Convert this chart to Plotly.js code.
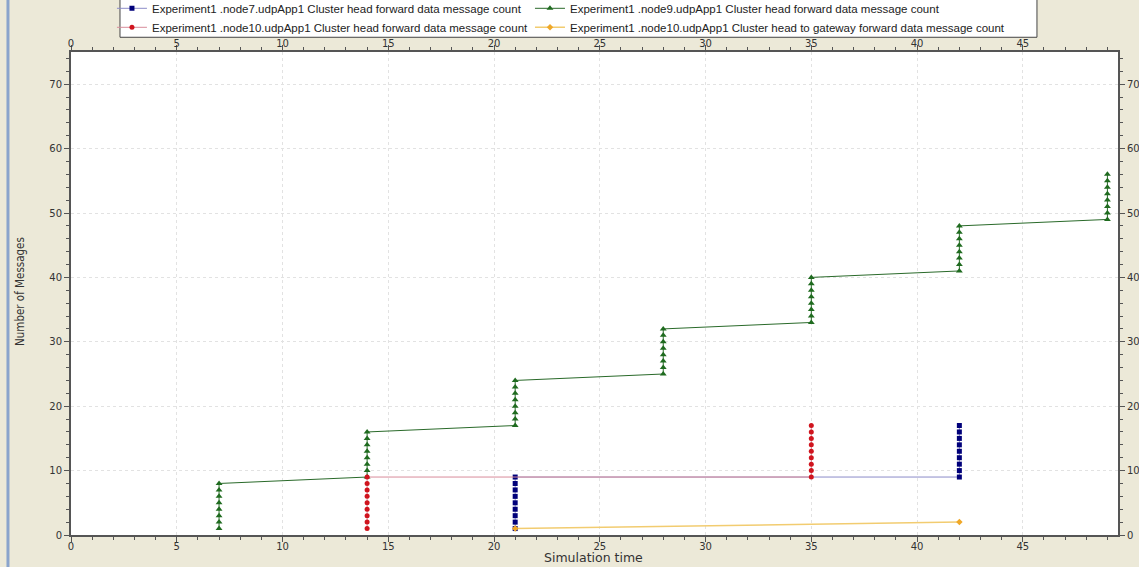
<!DOCTYPE html>
<html>
<head>
<meta charset="utf-8">
<script src="https://cdn.plot.ly/plotly-3.0.1.min.js"></script>
<style>html,body{margin:0;padding:0;background:#ECE9D8;}#chart{width:1139px;height:567px;}</style>
</head>
<body>
<div id="chart"></div>
<script>
// Series names
const seriesNames = [
  "Experiment1 .node7.udpApp1 Cluster head forward data message count",
  "Experiment1 .node9.udpApp1 Cluster head forward data message count",
  "Experiment1 .node10.udpApp1 Cluster head forward data message count",
  "Experiment1 .node10.udpApp1 Cluster head to gateway forward data message count"
];

// node7 (blue squares)
const node7Time  = [21,21,21,21,21,21,21,21,21, 42,42,42,42,42,42,42,42,42];
const node7Count = [1,2,3,4,5,6,7,8,9, 9,10,11,12,13,14,15,16,17];

// node9 (green triangles)
const node9Time = [
  7,7,7,7,7,7,7,7,
  14,14,14,14,14,14,14,14,
  21,21,21,21,21,21,21,21,
  28,28,28,28,28,28,28,28,
  35,35,35,35,35,35,35,35,
  42,42,42,42,42,42,42,42,
  49,49,49,49,49,49,49,49
];
const node9Count = [
  1,2,3,4,5,6,7,8,
  9,10,11,12,13,14,15,16,
  17,18,19,20,21,22,23,24,
  25,26,27,28,29,30,31,32,
  33,34,35,36,37,38,39,40,
  41,42,43,44,45,46,47,48,
  49,50,51,52,53,54,55,56
];

// node10 (red circles)
const node10Time  = [14,14,14,14,14,14,14,14,14, 35,35,35,35,35,35,35,35,35];
const node10Count = [1,2,3,4,5,6,7,8,9, 9,10,11,12,13,14,15,16,17];

// node10 to gateway (orange)
const gatewayTime  = [21, 42];
const gatewayCount = [1, 2];

// Axis ticks and titles
const xTicks = [0,5,10,15,20,25,30,35,40,45];
const yTicks = [0,10,20,30,40,50,60,70];
const xTitle = 'Simulation time';
const yTitle = 'Number of Messages';

const traces = [
  {x: node7Time, y: node7Count, name: seriesNames[0], legend: 'legend', type: 'scatter', mode: 'lines+markers',
   line: {color: '#8c8cc8', width: 1}, marker: {symbol: 'square', size: 5, color: '#00007a'}},
  {x: node9Time, y: node9Count, name: seriesNames[1], legend: 'legend2', type: 'scatter', mode: 'lines+markers',
   line: {color: '#2a6a2a', width: 1}, marker: {symbol: 'triangle-up', size: 6, color: '#1f6b1f'}},
  {x: node10Time, y: node10Count, name: seriesNames[2], legend: 'legend', type: 'scatter', mode: 'lines+markers',
   line: {color: '#d88c9a', width: 1}, marker: {symbol: 'circle', size: 5, color: '#d0141e'}},
  {x: gatewayTime, y: gatewayCount, name: seriesNames[3], legend: 'legend2', type: 'scatter', mode: 'lines+markers',
   line: {color: '#f2cc70', width: 1.5}, marker: {symbol: 'diamond', size: 5, color: '#f0a828'}},
  // invisible trace so the mirrored top/right axes are drawn
  {x: gatewayTime, y: gatewayCount, xaxis: 'x2', yaxis: 'y2', type: 'scatter', mode: 'markers',
   marker: {opacity: 0, size: 1}, showlegend: false, hoverinfo: 'skip'}
];

const tickFont = {family: 'DejaVu Sans, Verdana, sans-serif', size: 10, color: '#333'};
const axisCommon = {
  showline: true, linecolor: '#555', linewidth: 2,
  ticks: 'outside', ticklen: 5, tickcolor: '#555', tickwidth: 1,
  tickfont: tickFont, zeroline: false, fixedrange: true
};
const legendFont = {family: 'Liberation Sans, Arial, sans-serif', size: 11.5, color: '#222'};
const legendCommon = {
  orientation: 'v', xref: 'container', yref: 'paper', y: 1.1205, xanchor: 'left', yanchor: 'top',
  bgcolor: 'rgba(0,0,0,0)', borderwidth: 0, font: legendFont, itemwidth: 30,
  tracegroupgap: 0, itemclick: false, traceorder: 'normal'
};

const layout = {
  width: 1139, height: 567,
  paper_bgcolor: '#ECE9D8', plot_bgcolor: '#ffffff',
  margin: {l: 71, r: 21, t: 52, b: 32, pad: 0, autoexpand: false},
  showlegend: true,
  legend: Object.assign({}, legendCommon, {x: 0.0983}),
  legend2: Object.assign({}, legendCommon, {x: 0.4653}),
  xaxis: Object.assign({}, axisCommon, {
    range: [0, 49.5], tickvals: xTicks, ticktext: xTicks.map(String),
    minor: {dtick: 1, ticklen: 3, tickcolor: '#555', ticks: 'outside', showgrid: false},
    showgrid: true, gridcolor: '#e2e2e2', griddash: 'dot', gridwidth: 1, ticklabelstandoff: -4
  }),
  xaxis2: Object.assign({}, axisCommon, {
    range: [0, 49.5], tickvals: xTicks, ticktext: xTicks.map(String),
    minor: {dtick: 1, ticklen: 3, tickcolor: '#555', ticks: 'outside', showgrid: false},
    overlaying: 'x', side: 'top', showgrid: false, anchor: 'y2', ticklabelstandoff: -6
  }),
  yaxis: Object.assign({}, axisCommon, {
    range: [0, 75], tickvals: yTicks, ticktext: yTicks.map(String),
    minor: {dtick: 2, ticklen: 3, tickcolor: '#555', ticks: 'outside', showgrid: false},
    showgrid: true, gridcolor: '#e2e2e2', griddash: 'dot', gridwidth: 1
  }),
  yaxis2: Object.assign({}, axisCommon, {
    range: [0, 75], tickvals: yTicks, ticktext: yTicks.map(String),
    minor: {dtick: 2, ticklen: 3, tickcolor: '#555', ticks: 'outside', showgrid: false},
    overlaying: 'y', side: 'right', showgrid: false, anchor: 'x2'
  }),
  annotations: [
    {text: xTitle, xref: 'paper', yref: 'paper', x: 0.499, y: -0.0476, xanchor: 'center', yanchor: 'middle',
     showarrow: false, font: {family: 'DejaVu Sans, Verdana, sans-serif', size: 12.5, color: '#333'}},
    {text: yTitle, xref: 'paper', yref: 'paper', x: -0.0488, y: 0.505, xanchor: 'center', yanchor: 'middle',
     textangle: -90, showarrow: false,
     font: {family: 'DejaVu Sans Condensed, Liberation Sans Narrow, Liberation Sans, sans-serif', size: 11.5, color: '#333'}}
  ],
  shapes: [
    {type: 'rect', xref: 'paper', yref: 'paper', x0: 0.0468, x1: 0.9226, y0: 1.0305, y1: 1.115,
     fillcolor: '#ffffff', line: {color: '#444', width: 1}, layer: 'below'},
    {type: 'line', xref: 'paper', yref: 'paper', x0: -0.0602, x1: -0.0602, y0: -0.07, y1: 1.12,
     line: {color: '#8aa4cc', width: 3}}
  ]
};

Plotly.newPlot('chart', traces, layout, {displayModeBar: false, staticPlot: true});
</script>
</body>
</html>
